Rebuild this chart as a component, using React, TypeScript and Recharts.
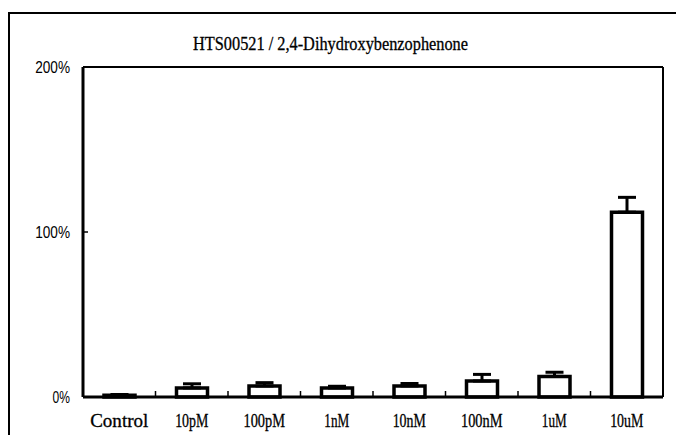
import { BarChart, Bar, XAxis, YAxis, CartesianGrid, ErrorBar } from 'recharts';

const TITLE = 'HTS00521 / 2,4-Dihydroxybenzophenone';

const CATEGORIES = ['Control', '10pM', '100pM', '1nM', '10nM', '100nM', '1uM', '10uM'];
const MEANS = [1, 5.5, 6.7, 5.5, 6.7, 9.7, 12.5, 112];
const ERRORS = [0.5, 2.5, 2, 1, 1.5, 4, 2.5, 9];
const Y_TICKS = [0, 100, 200];

const data = CATEGORIES.map((name, i) => ({
  name,
  value: MEANS[i],
  err: [0, ERRORS[i]],
}));

const XTick = (props: any) => {
  const { x, y, payload, index, visibleTicksCount } = props;
  const label = String(payload.value);
  const half = 72.5 / 2;
  return (
    <g>
      {index < (visibleTicksCount ?? CATEGORIES.length) - 1 && (
        <line x1={x + half} y1={y} x2={x + half} y2={y - 6} stroke="#000" strokeWidth={1.5} />
      )}
      <text
        x={x}
        y={y + 30}
        textAnchor="middle"
        fontFamily="'Liberation Serif', serif"
        fontSize={19}
        fill="#000"
        stroke="#000"
        strokeWidth={0.3}
        textLength={label.length * 8.3}
        lengthAdjust="spacingAndGlyphs"
      >
        {label}
      </text>
    </g>
  );
};

const YTick = (props: any) => {
  const { x, y, payload } = props;
  const label = `${payload.value}%`;
  return (
    <g>
      <line x1={x} y1={y} x2={x + 5} y2={y} stroke="#000" strokeWidth={1.5} />
      <text
        x={x - 13}
        y={y + 6}
        textAnchor="end"
        fontFamily="'Liberation Sans', sans-serif"
        fontSize={16}
        fill="#000"
        textLength={label.length * 8.7}
        lengthAdjust="spacingAndGlyphs"
      >
        {label}
      </text>
    </g>
  );
};

export default function App() {
  return (
    <div style={{ position: 'absolute', left: 0, top: 0, width: 676, height: 435, background: '#fff' }}>
      <div
        style={{
          position: 'absolute',
          left: 8,
          top: 12,
          width: 668,
          height: 423,
          borderLeft: '2px solid #000',
          borderTop: '2px solid #000',
        }}
      />
      <svg style={{ position: 'absolute', left: 0, top: 0 }} width={676} height={60}>
        <text
          x={193}
          y={50}
          fontFamily="'Liberation Serif', serif"
          fontSize={19}
          fill="#000"
          stroke="#000"
          strokeWidth={0.3}
          textLength={275}
          lengthAdjust="spacingAndGlyphs"
        >
          {TITLE}
        </text>
      </svg>
      <div style={{ position: 'absolute', left: 0, top: 0 }}>
        <BarChart
          width={676}
          height={435}
          data={data}
          margin={{ top: 67, right: 13, left: 0, bottom: 0 }}
        >
          <CartesianGrid
            stroke="#000"
            strokeWidth={2}
            strokeDasharray=""
            horizontalCoordinatesGenerator={({ offset }: any) => [offset.top, offset.top + offset.height]}
            verticalCoordinatesGenerator={({ offset }: any) => [offset.left, offset.left + offset.width]}
          />
          <XAxis
            dataKey="name"
            height={38}
            tickLine={false}
            tickSize={0}
            tickMargin={0}
            axisLine={{ stroke: '#000', strokeWidth: 3 }}
            tick={<XTick />}
            interval={0}
          />
          <YAxis
            width={83}
            domain={[0, 200]}
            ticks={Y_TICKS}
            tickLine={false}
            tickSize={0}
            tickMargin={0}
            axisLine={{ stroke: '#000', strokeWidth: 3 }}
            tick={<YTick />}
          />
          <Bar dataKey="value" barSize={31} fill="#fff" stroke="#000" strokeWidth={3.5} isAnimationActive={false}>
            <ErrorBar dataKey="err" width={9} stroke="#000" strokeWidth={3} direction="y" />
          </Bar>
        </BarChart>
      </div>
    </div>
  );
}
